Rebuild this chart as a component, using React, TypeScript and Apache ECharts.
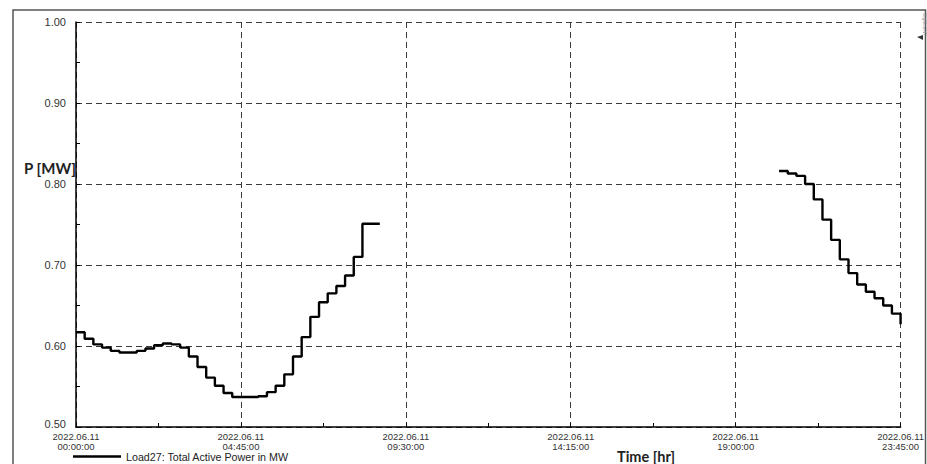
import React, { useEffect, useRef } from "react";
import * as echarts from "echarts";

// 15-minute samples, 2022.06.11
const morningStart = "00:00";
const morningValues = [
  0.617, 0.609, 0.602, 0.598, 0.594, 0.592, 0.592, 0.594, 0.597, 0.601,
  0.603, 0.602, 0.598, 0.587, 0.574, 0.561, 0.551, 0.542, 0.537, 0.537,
  0.537, 0.538, 0.543, 0.551, 0.565, 0.587, 0.611, 0.636, 0.654, 0.665,
  0.674, 0.687, 0.71, 0.751, 0.751,
];
const eveningStart = "20:15";
const eveningValues = [
  0.816, 0.813, 0.81, 0.8, 0.781, 0.756, 0.731, 0.707, 0.69, 0.676, 0.667,
  0.659, 0.65, 0.64, 0.627,
];
const xTickLabels = ["00:00:00", "04:45:00", "09:30:00", "14:15:00", "19:00:00", "23:45:00"];
const dateLabel = "2022.06.11";
const yTicks = [0.5, 0.6, 0.7, 0.8, 0.9, 1.0];
const seriesName = "Load27: Total Active Power in MW";

const STEP_MIN = 15;
const toMin = (hhmm: string) => {
  const [h, m] = hhmm.split(":").map(Number);
  return h * 60 + m;
};

export default function App() {
  const ref = useRef<HTMLDivElement>(null);
  useEffect(() => {
    document.body.style.margin = "0";
    if (!ref.current) return;
    const chart = echarts.init(ref.current, undefined, { renderer: "svg" });

    const m0 = toMin(morningStart);
    const e0 = toMin(eveningStart);
    const data: any[] = [];
    morningValues.forEach((v, i) => data.push([m0 + i * STEP_MIN, v]));
    data.push([m0 + morningValues.length * STEP_MIN, "-"]);
    eveningValues.forEach((v, i) => data.push([e0 + i * STEP_MIN, v]));

    const xMax = toMin(xTickLabels[xTickLabels.length - 1]);
    const xInterval = toMin(xTickLabels[1]);
    const font = "Liberation Sans, Arial, sans-serif";
    const gridDash = { color: "#3a3a3a", width: 1, type: [6, 4] as any };

    chart.setOption({
      animation: false,
      backgroundColor: "#fff",
      grid: { left: 76, right: 21, top: 22, bottom: 37, containLabel: false },
      legend: {
        left: 73,
        top: 451,
        padding: 0,
        data: [seriesName],
        icon: "rect",
        itemWidth: 48,
        itemHeight: 2.5,
        textStyle: { fontFamily: font, fontSize: 10.7, lineHeight: 11, color: "#222" },
      },
      xAxis: {
        type: "value",
        min: 0,
        max: xMax,
        interval: xInterval,
        axisLine: { lineStyle: { color: "#000", width: 1.5 } },
        axisTick: { show: true, inside: true, length: 4, lineStyle: { color: "#000" } },
        minorTick: { show: true, splitNumber: 2, length: 4, lineStyle: { color: "#000" } },
        splitLine: { show: true, lineStyle: gridDash },
        axisLabel: {
          fontFamily: font,
          fontSize: 9.5,
          lineHeight: 9.5,
          color: "#333",
          margin: 5,
          showMaxLabel: true,
          formatter: (v: number) => {
            const idx = Math.round(v / xInterval);
            return dateLabel + "\n" + (xTickLabels[idx] ?? "");
          },
        },
      },
      yAxis: {
        type: "value",
        min: yTicks[0],
        max: yTicks[yTicks.length - 1],
        interval: 0.1,
        axisLine: { show: true, lineStyle: { color: "#000", width: 1.5 } },
        axisTick: { show: true, inside: true, length: 4, lineStyle: { color: "#000" } },
        minorTick: { show: true, splitNumber: 2, length: 4, lineStyle: { color: "#000" } },
        splitLine: { show: true, lineStyle: gridDash },
        axisLabel: {
          fontFamily: font,
          fontSize: 11,
          color: "#333",
          margin: 10,
          formatter: (v: number) => (v === yTicks[0] ? "{lo|" + v.toFixed(2) + "}" : v.toFixed(2)),
          rich: {
            lo: { fontFamily: font, fontSize: 11, color: "#333", padding: [0, 0, 6, 0] },
          },
        },
      },
      series: [
        {
          name: seriesName,
          type: "line",
          step: "end",
          data,
          showSymbol: false,
          symbol: "none",
          connectNulls: false,
          lineStyle: { color: "#000", width: 2.4 },
          itemStyle: { color: "#000" },
        },
      ],
      graphic: [
        {
          type: "rect",
          shape: { x: 13, y: 10, width: 912.5, height: 470 },
          style: { fill: "none", stroke: "#555", lineWidth: 1.5 },
          silent: true,
          z: -1,
        },
        {
          type: "text",
          x: 24,
          y: 160,
          style: { text: "P [MW]", fontFamily: "Lato, sans-serif", fontWeight: "bold", fontSize: 15, fill: "#222" },
        },
        {
          type: "text",
          x: 617,
          y: 449,
          style: { text: "Time [hr]", fontFamily: "Lato, sans-serif", fontWeight: "bold", fontSize: 14.5, fill: "#222" },
        },
        {
          type: "text",
          x: 922,
          y: 13,
          rotation: -Math.PI / 2,
          originX: 0,
          originY: 0,
          style: { text: "DIgSILENT", fontFamily: font, fontSize: 4.5, fill: "#888", align: "left", verticalAlign: "bottom" },
        },
        {
          type: "polygon",
          shape: { points: [[917, 37], [923, 35], [923, 40]] },
          style: { fill: "#333" },
        },
      ],
    });
    return () => chart.dispose();
  }, []);
  return <div ref={ref} style={{ width: 927, height: 464 }} />;
}
